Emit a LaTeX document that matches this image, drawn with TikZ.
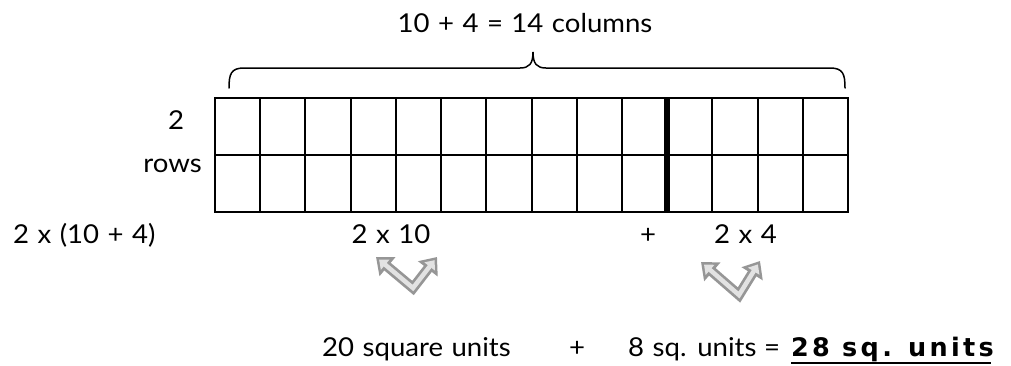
\documentclass[tikz,border=0pt]{standalone}
\usepackage{fontspec}
\setmainfont{Lato}[FakeStretch=1.06,WordSpace=1.2]
\newfontfamily\resfont{DejaVu Sans}[LetterSpace=13]
\usetikzlibrary{arrows.meta}
\definecolor{arrgray}{RGB}{150,150,150}
\definecolor{arrfill}{RGB}{226,226,226}
\tikzset{
  lbl/.style={font=\fontsize{26}{30}\selectfont, inner sep=0pt, anchor=base},
  gridline/.style={line width=2pt},
  divline/.style={line width=6pt},
  bracestyle/.style={line width=1.5pt, line cap=round},
  varrowout/.style={draw=arrgray, line width=10pt, line join=miter,
     {Triangle[width=24pt,length=15pt]}-{Triangle[width=24pt,length=15pt]}},
  varrowin/.style={draw=arrfill, line width=4.5pt, line join=miter,
     shorten <=4pt, shorten >=4pt,
     {Triangle[width=13pt,length=8pt]}-{Triangle[width=13pt,length=8pt]}},
}
\begin{document}
\begin{tikzpicture}[x=1pt,y=-1pt]
\useasboundingbox (0,0) rectangle (1011,365);
% grid
\coordinate (gtl) at (215,98);
\coordinate (gbr) at (848,212);
\foreach \i in {1,...,13} {
  \draw[gridline] ({215+\i*633/14},98) -- ({215+\i*633/14},212);
}
\draw[gridline] (215,155) -- (848,155);
\draw[gridline] (gtl) rectangle (gbr);
\coordinate (d1) at ({215+10*633/14},98);
\coordinate (d2) at ({215+10*633/14},212);
\draw[divline] (d1) -- (d2);
% brace
\draw[bracestyle] (229,88) .. controls (229,74) and (231,68) .. (244,68)
  -- (520,68) .. controls (529,68) and (533,64) .. (533,52)
  .. controls (533,64) and (537,68) .. (546,68)
  -- (830,68) .. controls (843,68) and (845,74) .. (845,88);
% labels
\node[lbl] (title) at (525,32) {10 + 4 = 14 columns};
\node[lbl] (two) at (176,129) {2};
\node[lbl, anchor=base east] (rows) at (202,172) {rows};
\node[lbl, anchor=base west] (expr) at (13,243) {2 x (10 + 4)};
\node[lbl] (tten) at (391,243) {2 x 10};
\node[lbl] (plusA) at (648,243) {+};
\node[lbl, anchor=base east] (tfour) at (777,243) {2 x 4};
\node[lbl, anchor=base west] (twenty) at (322,356) {20 square units};
\node[lbl] (plusB) at (577,356) {+};
\node[lbl, anchor=base west] (eight) at (628,356) {8 sq. units};
\node[lbl] (eq) at (772,356) {=};
\node[lbl, anchor=base west, font=\resfont\bfseries\fontsize{25.5}{28}\selectfont] (res) at (791,356) {28 sq. units};
\draw[line width=1.6pt] ([yshift=-7pt]res.base west) -- ([yshift=-7pt,xshift=-3pt]res.base east);
% arrows
\coordinate (la) at (376,257);
\coordinate (lv) at (413,288);
\coordinate (lb) at (437,257);
\coordinate (ra) at (701,262);
\coordinate (rv) at (739,295);
\coordinate (rb) at (760,261);
\draw[varrowout] (la) -- (lv) -- (lb);
\draw[varrowin] (la) -- (lv) -- (lb);
\draw[varrowout] (ra) -- (rv) -- (rb);
\draw[varrowin] (ra) -- (rv) -- (rb);
\end{tikzpicture}
\end{document}
